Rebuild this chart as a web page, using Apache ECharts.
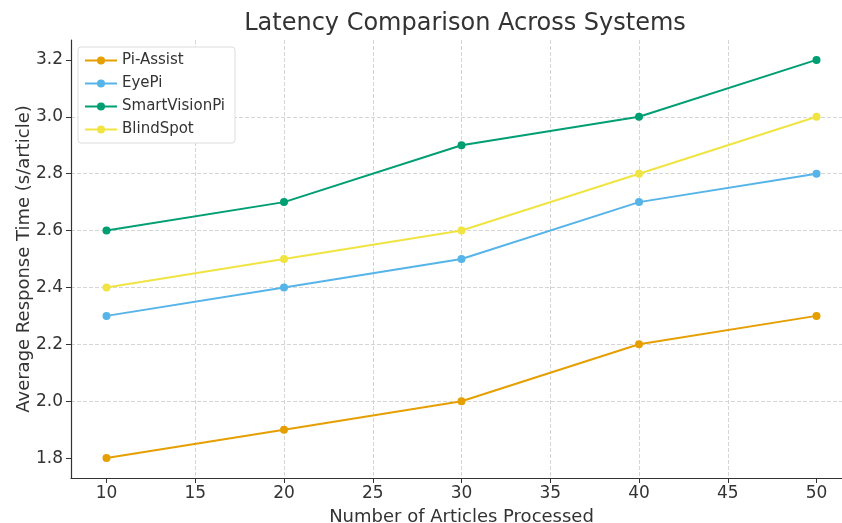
<!DOCTYPE html>
<html>
<head>
<meta charset="utf-8">
<script src="https://cdn.jsdelivr.net/npm/echarts@6/dist/echarts.min.js"></script>
<style>
  html, body { margin: 0; padding: 0; background: #fff; }
  #main { width: 842px; height: 523px; }
</style>
</head>
<body>
<div id="main"></div>
<script>
var articles = [10, 20, 30, 40, 50];
var piAssist = [1.8, 1.9, 2.0, 2.2, 2.3];
var eyePi = [2.3, 2.4, 2.5, 2.7, 2.8];
var smartVisionPi = [2.6, 2.7, 2.9, 3.0, 3.2];
var blindSpot = [2.4, 2.5, 2.6, 2.8, 3.0];
var xTicks = [10, 15, 20, 25, 30, 35, 40, 45, 50];
var yTicks = [1.8, 2.0, 2.2, 2.4, 2.6, 2.8, 3.0, 3.2];

function pairs(vals) {
    var out = [];
    for (var i = 0; i < articles.length; i++) {
        out.push([articles[i], vals[i]]);
    }
    return out;
}

function makeSeries(name, vals, color) {
    return {
        name: name,
        type: 'line',
        data: pairs(vals),
        symbol: 'circle',
        symbolSize: 8,
        lineStyle: { width: 2, color: color },
        itemStyle: { color: color },
        emphasis: { disabled: true }
    };
}

var font = 'DejaVu Sans';
var myChart = echarts.init(document.getElementById('main'));
var option = {
    animation: false,
    backgroundColor: '#fff',
    title: {
        text: 'Latency Comparison Across Systems',
        left: 460,
        textAlign: 'center',
        top: 7,
        textStyle: { fontFamily: font, fontSize: 24, fontWeight: 'normal', color: '#333' }
    },
    legend: {
        orient: 'vertical',
        left: 78,
        top: 47,
        padding: [6, 10, 6, 6],
        itemGap: 8,
        itemWidth: 32,
        itemHeight: 10,
        backgroundColor: '#fff',
        borderColor: '#ddd',
        borderWidth: 1,
        borderRadius: 3,
        textStyle: { fontFamily: font, fontSize: 15, color: '#333' },
        data: ['Pi-Assist', 'EyePi', 'SmartVisionPi', 'BlindSpot']
    },
    grid: { left: 71, right: -10, top: 40, bottom: 45, containLabel: false, outerBoundsMode: 'none' },
    xAxis: {
        type: 'value',
        min: 8,
        max: 52,
        name: 'Number of Articles Processed',
        nameLocation: 'middle',
        nameGap: 30,
        nameTextStyle: { fontFamily: font, fontSize: 18, color: '#333' },
        axisLine: { lineStyle: { color: '#333', width: 1.2 } },
        axisTick: { show: true, length: 5, customValues: xTicks, lineStyle: { color: '#333' } },
        axisLabel: { customValues: xTicks, fontFamily: font, fontSize: 17, color: '#333', margin: 7 },
        splitLine: { show: true, showMinLine: false, showMaxLine: false, lineStyle: { color: '#d5d5d5', type: 'dashed', width: 1 } }
    },
    yAxis: {
        type: 'value',
        min: 1.73,
        max: 3.27,
        name: 'Average Response Time (s/article)',
        nameLocation: 'middle',
        nameGap: 38,
        nameMoveOverlap: false,
        nameTextStyle: { fontFamily: font, fontSize: 18, color: '#333' },
        axisLine: { show: true, lineStyle: { color: '#333', width: 1.2 } },
        axisTick: { show: true, length: 5, customValues: yTicks, lineStyle: { color: '#333' } },
        axisLabel: {
            customValues: yTicks, fontFamily: font, fontSize: 17, color: '#333', margin: 8,
            formatter: function (v) { return v.toFixed(1); }
        },
        splitLine: { show: true, showMinLine: false, showMaxLine: false, lineStyle: { color: '#d5d5d5', type: 'dashed', width: 1 } }
    },
    series: [
        makeSeries('Pi-Assist', piAssist, '#E69F00'),
        makeSeries('EyePi', eyePi, '#56B4E9'),
        makeSeries('SmartVisionPi', smartVisionPi, '#009E73'),
        makeSeries('BlindSpot', blindSpot, '#F0E442')
    ]
};
myChart.setOption(option);
</script>
</body>
</html>
